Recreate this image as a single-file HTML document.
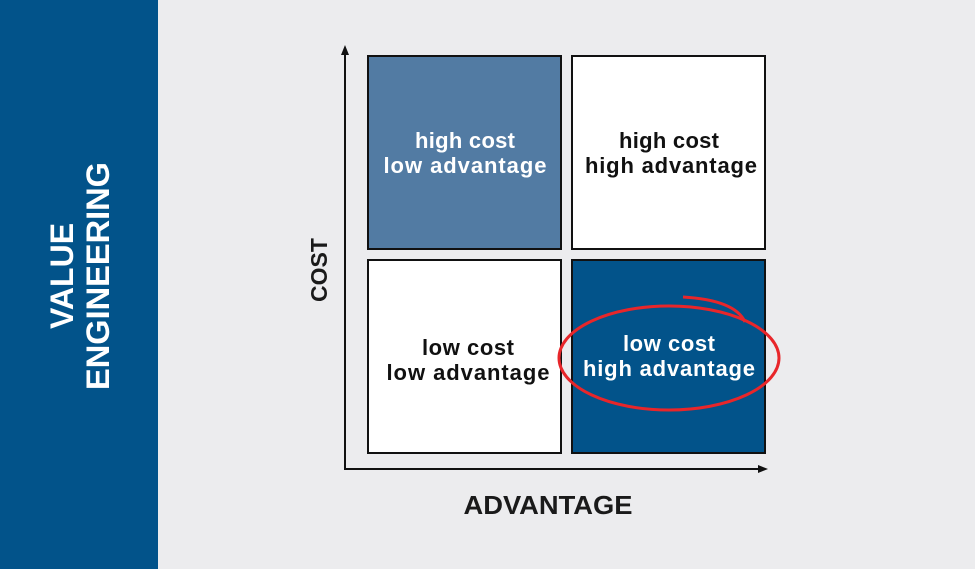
<!DOCTYPE html>
<html><head><style>
html,body{margin:0;padding:0;width:975px;height:569px;overflow:hidden;background:#ececee}
</style></head><body>
<svg width="975" height="569" viewBox="0 0 975 569" xmlns="http://www.w3.org/2000/svg" font-family="Liberation Sans, sans-serif" font-weight="bold">
<rect x="0" y="0" width="975" height="569" fill="#ececee"/>
<rect x="0" y="0" width="158" height="569" fill="#02538a"/>
<g transform="translate(80,276) rotate(-90)" fill="#fff" font-size="32" text-anchor="middle">
<text x="0" y="-7">VALUE</text>
<text x="0" y="29" textLength="228" lengthAdjust="spacingAndGlyphs">ENGINEERING</text>
</g>
<text transform="translate(327,270) rotate(-90)" font-size="23" text-anchor="middle" fill="#1a1a1a">COST</text>
<text x="548" y="514" font-size="26" text-anchor="middle" fill="#1a1a1a" textLength="169" lengthAdjust="spacingAndGlyphs">ADVANTAGE</text>
<g stroke="#111" stroke-width="2" fill="none">
<line x1="345" y1="52" x2="345" y2="470"/>
<line x1="344" y1="469" x2="762" y2="469"/>
</g>
<polygon points="345,45 341,55 349,55" fill="#111"/>
<polygon points="768,469 758,465 758,473" fill="#111"/>
<g stroke="#111" stroke-width="2">
<rect x="368" y="56" width="193" height="193" fill="#527ba3"/>
<rect x="572" y="56" width="193" height="193" fill="#fff"/>
<rect x="368" y="260" width="193" height="193" fill="#fff"/>
<rect x="572" y="260" width="193" height="193" fill="#02538a"/>
</g>
<g font-size="22" text-anchor="middle" lengthAdjust="spacingAndGlyphs">
<text x="465" y="148" fill="#fff" textLength="100">high cost</text>
<text x="465" y="173" fill="#fff" textLength="163">low advantage</text>
<text x="669" y="148" fill="#111" textLength="100">high cost</text>
<text x="671" y="173" fill="#111" textLength="172">high advantage</text>
<text x="468" y="355" fill="#111" textLength="92">low cost</text>
<text x="468" y="380" fill="#111" textLength="163">low advantage</text>
<text x="669" y="351" fill="#fff" textLength="92">low cost</text>
<text x="669" y="376" fill="#fff" textLength="172">high advantage</text>
</g>
<ellipse cx="669" cy="358" rx="110" ry="52" fill="none" stroke="#e8262a" stroke-width="3"/>
<path d="M683 297 Q735 300 745 322" fill="none" stroke="#e8262a" stroke-width="3"/>
</svg>
</body></html>
